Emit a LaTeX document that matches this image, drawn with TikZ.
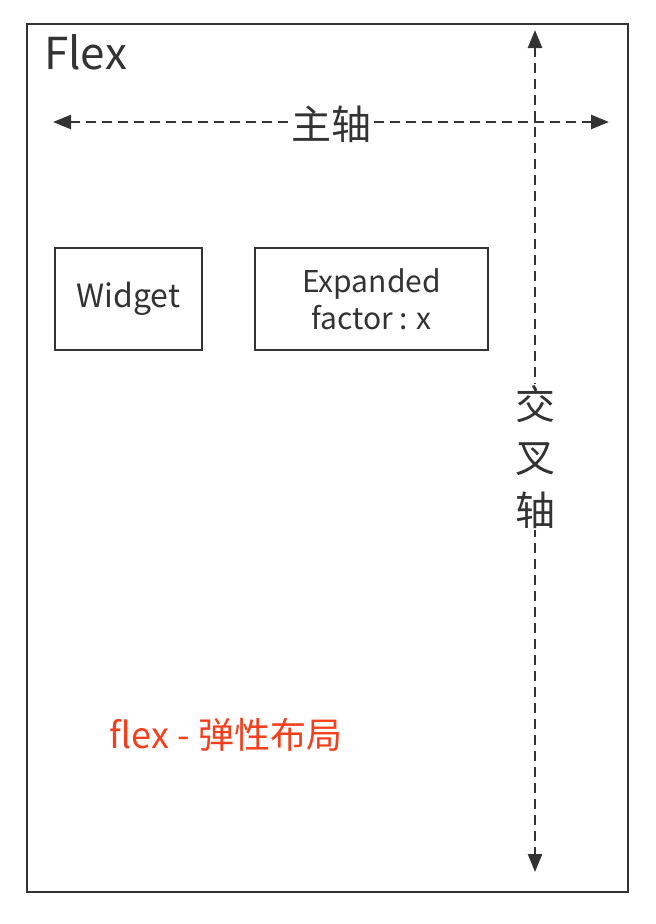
\documentclass[tikz,border=0pt]{standalone}
\usepackage{fontspec}
\setmainfont{Noto Sans CJK SC}
\usetikzlibrary{arrows.meta}
\definecolor{ink}{HTML}{333333}
\definecolor{flexred}{HTML}{F2401E}
\begin{document}
\begin{tikzpicture}
[   x=1pt,y=-1pt,
    box/.style={draw=ink,line width=2pt,text=ink,font=\fontsize{30}{37}\selectfont,align=center,inner sep=0pt},
    axis/.style={draw=ink,line width=2.5pt,dash pattern=on 10pt off 6pt,{Triangle[length=18pt,width=14pt]}-{Triangle[length=18pt,width=14pt]}},
    axlabel/.style={fill=white,text=ink,font=\fontsize{40}{53}\selectfont,align=center,inner sep=2pt},
]
    \useasboundingbox (0,0) rectangle (656,924);
    \draw[ink,line width=2.5pt] (27,24) rectangle (628,892);
    \node[anchor=base west,text=ink,font=\fontsize{44}{44}\selectfont,inner sep=0pt] (title) at (44,69) {Flex};
    % main axis and cross axis
    \coordinate (mleft) at (53,122);
    \coordinate (mright) at (609,122);
    \coordinate (ctop) at (535,30);
    \coordinate (cbot) at (535,872);
    \draw[axis] (mleft) -- (mright);
    \draw[axis] (ctop) -- (cbot);
    \node[axlabel] (main) at (331,124) {主轴};
    \node[axlabel,inner sep=1pt] (cross) at (535,457) {交\\叉\\轴};
    % children
    \node[box,minimum width=147pt,minimum height=102pt,font=\fontsize{32}{37}\selectfont] (widget) at (128.5,299) {Widget};
    \node[box,minimum width=233pt,minimum height=102pt] (expanded) at (371.5,299) {Expanded\\factor : x};
    \node[text=flexred,font=\fontsize{36}{36}\selectfont,inner sep=0pt] (caption) at (226,735) {flex - 弹性布局};
\end{tikzpicture}
\end{document}
